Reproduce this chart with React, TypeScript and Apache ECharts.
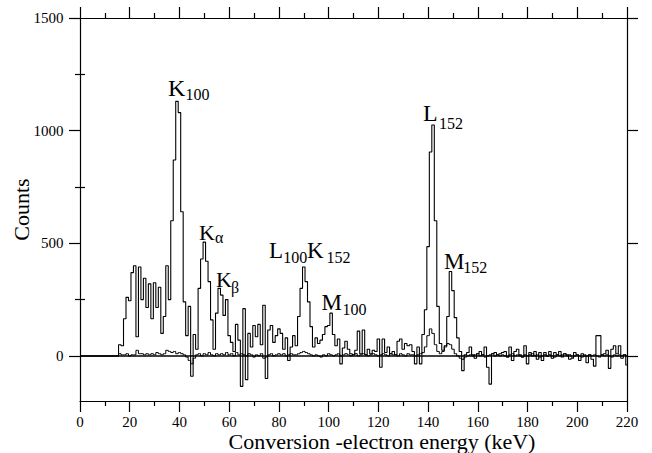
import React, { useEffect, useRef } from "react";
import * as echarts from "echarts";

const FONT = '"Liberation Serif", "Times New Roman", Times, serif';

// Spectrum binned at 1 keV; index = energy (keV) of bin centre
const energyStart = 0;
const binWidth = 1;

const mainCounts = [
  0, 0, 0, 0, 0, 0, 0, 0, 0, 0,
  0, 0, 0, 0, 0, 0, 50, 45, 165, 260,
  245, 370, 400, 85, 395, 250, 345, 215, 320, 165,
  325, 215, 305, 100, 175, 400, 250, 600, 870, 1130,
  1080, 640, 240, 90, 220, -90, 95, 30, 300, 430,
  505, 420, 330, 160, 30, 190, 300, 270, 180, 250,
  90, 60, 20, 140, 70, -135, 210, -105, 100, 40,
  135, 85, 140, 50, 225, -100, 115, 135, 60, 90,
  120, 100, 30, 80, -20, 40, 90, 45, 175, 300,
  395, 330, 240, 130, 40, 80, 55, 70, 95, 130,
  135, 190, 95, 45, 75, -35, 35, 65, 30, 10,
  5, 25, 110, 10, 115, 5, 30, 10, 25, 20,
  75, -50, 75, 15, 40, 10, 20, 5, 65, 75,
  30, 55, 45, 50, 20, -35, 40, -35, 95, 205,
  485, 905, 1025, 600, 220, 55, 25, 45, 175, 375,
  290, 170, 80, 20, -65, 5, 15, 40, 5, -10,
  10, 20, 5, 40, -50, -125, 10, 15, 5, 10,
  15, 20, -5, 40, -20, 20, 30, 5, -5, 45,
  -35, 15, 0, 20, -15, 15, -20, 15, 0, 20,
  -10, 15, 5, 20, -5, 10, 5, -15, -10, 15,
  5, -20, 10, 0, -30, 5, -15, -45, 90, 90,
  5, 10, 25, -55, 30, 45, 10, 45, -10, 5,
  -40,
];

const backgroundCounts = [
  0, 0, 0, 0, 0, 0, 0, 0, 0, 0,
  0, 0, 0, 0, 0, 0, 10, 5, 5, 10,
  0, 5, 5, 25, 10, 10, 5, 10, 5, 10,
  5, 15, 10, 5, 10, 25, 20, 15, 20, 10,
  15, 10, 5, -5, -20, -35, -10, 5, 10, 0,
  10, 5, 15, 5, 0, 10, 5, 10, 5, 15,
  5, 10, 0, 15, 5, 10, 5, 0, 10, 5,
  -5, 5, 0, 10, -10, -5, 5, 10, 0, 5,
  10, 5, 10, 0, 5, 10, 5, 5, 10, 15,
  20, 15, 10, 5, 0, 5, 0, -5, 5, 0,
  10, 5, 0, 5, 10, 0, 5, 10, 5, 0,
  5, 10, 0, 5, 10, 5, 0, 5, 10, 5,
  0, 5, 10, 5, 0, 10, 5, 5, 0, 10,
  5, 0, 10, 5, 5, 0, 5, 10, 15, 40,
  90, 120, 100, 50, 20, 10, 20, 40, 55, 50,
  30, 10, 0, -10, -15, -5, 0, 5, 0, 5,
  10, 0, 5, -5, 0, 5, 10, 0, 5, 0,
  5, 0, -5, 5, 10, 0, 5, 0, -5, 5,
  0, 5, 10, 0, 5, -5, 0, 5, 0, 5,
  0, -5, 5, 0, 5, 10, 0, 5, -5, 0,
  5, 0, -5, 5, 0, 5, 0, 5, 0, -5,
  5, 0, 5, 0, -5, 5, 0, 5, 0, 5,
  0,
];

const xMin = 0;
const xMax = 220;
const xTickInterval = 20;
const yMin = -200;
const yMax = 1500;
const yMajorTicks = [0, 500, 1000, 1500];
const yMinorTicks = [250, 750, 1250];

const xTitle = "Conversion -electron energy (keV)";
const yTitle = "Counts";

const peakNames = ["K", "K", "K", "L", "K", "M", "L", "M"];
const peakSubs = ["100", "α", "β", "100", "152", "100", "152", "152"];

// layout of the peak annotations (pixels): main letter and subscript
const peakLayout = [
  { x: 168, y: 87.5, size: 24, sx: 185.5, sy: 94, ss: 16 },
  { x: 199, y: 232.5, size: 22, sx: 215, sy: 237.5, ss: 16 },
  { x: 216, y: 279, size: 22, sx: 231, sy: 287.5, ss: 16 },
  { x: 269, y: 250.5, size: 23, sx: 283.3, sy: 257.5, ss: 16 },
  { x: 307, y: 250.5, size: 23, sx: 326.5, sy: 257.5, ss: 16 },
  { x: 321.5, y: 302.5, size: 23, sx: 342.5, sy: 309, ss: 16 },
  { x: 423, y: 112.5, size: 24, sx: 439, sy: 123.5, ss: 16 },
  { x: 444, y: 261, size: 23, sx: 463.3, sy: 267.5, ss: 16 },
];

const toPairs = (arr: number[]) =>
  arr.map((v, i) => [energyStart + i * binWidth, v]);

export default function App() {
  const ref = useRef<HTMLDivElement>(null);

  useEffect(() => {
    document.body.style.margin = "0";
    if (!ref.current) return;
    const chart = echarts.init(ref.current, undefined, { renderer: "svg" });

    const black = "#000";
    const tickLine = { color: black, width: 1.2 };
    const baseX = {
      type: "value",
      min: xMin,
      max: xMax,
      interval: xTickInterval,
      axisLine: { show: true, onZero: false, lineStyle: tickLine },
      axisTick: { show: true, inside: false, length: 11, lineStyle: tickLine },
      minorTick: { show: true, splitNumber: 2, length: 5, lineStyle: tickLine },
      splitLine: { show: false },
      minorSplitLine: { show: false },
    };
    const baseY = {
      type: "value",
      min: yMin,
      max: yMax,
      splitNumber: 3,
      splitLine: { show: false },
      minorSplitLine: { show: false },
    };

    const graphics: any[] = [];
    peakNames.forEach((name, i) => {
      const l = peakLayout[i];
      graphics.push({
        type: "text",
        x: l.x,
        y: l.y,
        silent: true,
        style: {
          text: name,
          fontSize: l.size,
          fontFamily: FONT,
          fill: black,
          align: "left",
          verticalAlign: "middle",
        },
      });
      graphics.push({
        type: "text",
        x: l.sx,
        y: l.sy,
        silent: true,
        style: {
          text: peakSubs[i],
          fontSize: l.ss,
          fontFamily: FONT,
          fill: black,
          align: "left",
          verticalAlign: "middle",
        },
      });
    });

    const option: any = {
      animation: false,
      backgroundColor: "#fff",
      grid: {
        left: 80,
        right: 25,
        top: 18,
        bottom: 52,
        containLabel: false,
        outerBoundsMode: "none",
      },
      xAxis: [
        {
          ...baseX,
          position: "bottom",
          axisLabel: {
            show: true,
            margin: 14,
            fontSize: 15,
            lineHeight: 14,
            fontFamily: FONT,
            color: black,
            formatter: (v: number) => String(v),
          },
          name: xTitle,
          nameLocation: "middle",
          nameGap: 30,
          nameMoveOverlap: false,
          nameTextStyle: {
            fontSize: 22,
            lineHeight: 21,
            fontFamily: FONT,
            color: black,
            padding: [0, 0, 0, 57],
          },
        },
        {
          ...baseX,
          position: "top",
          axisLabel: { show: false },
        },
      ],
      yAxis: [
        {
          ...baseY,
          position: "left",
          axisLine: { show: true, onZero: false, lineStyle: tickLine },
          axisTick: {
            show: true,
            inside: false,
            length: 11,
            lineStyle: tickLine,
            customValues: yMajorTicks,
          },
          axisLabel: {
            show: true,
            margin: 16.5,
            fontSize: 15,
            fontFamily: FONT,
            color: black,
            customValues: yMajorTicks,
            formatter: (v: number) => String(v),
          },
          name: yTitle,
          nameLocation: "middle",
          nameGap: 48,
          nameMoveOverlap: false,
          nameTextStyle: { fontSize: 22, fontFamily: FONT, color: black },
        },
        {
          ...baseY,
          position: "left",
          axisLine: { show: false },
          axisTick: {
            show: true,
            inside: false,
            length: 5,
            lineStyle: tickLine,
            customValues: yMinorTicks,
          },
          axisLabel: { show: false },
        },
        {
          ...baseY,
          position: "right",
          axisLine: { show: true, onZero: false, lineStyle: tickLine },
          axisTick: {
            show: true,
            inside: false,
            length: 11,
            lineStyle: tickLine,
            customValues: yMajorTicks,
          },
          axisLabel: { show: false },
        },
        {
          ...baseY,
          position: "right",
          axisLine: { show: false },
          axisTick: {
            show: true,
            inside: false,
            length: 5,
            lineStyle: tickLine,
            customValues: yMinorTicks,
          },
          axisLabel: { show: false },
        },
      ],
      series: [
        {
          name: "spectrum",
          type: "line",
          xAxisIndex: 0,
          yAxisIndex: 0,
          step: "middle",
          showSymbol: false,
          symbol: "none",
          data: toPairs(mainCounts),
          lineStyle: { color: black, width: 1.1 },
          z: 3,
          markLine: {
            silent: true,
            symbol: "none",
            label: { show: false },
            lineStyle: { color: black, width: 1.5, type: "solid" },
            data: [{ yAxis: 0 }],
          },
        },
        {
          name: "background",
          type: "line",
          xAxisIndex: 0,
          yAxisIndex: 0,
          step: "middle",
          showSymbol: false,
          symbol: "none",
          data: toPairs(backgroundCounts),
          lineStyle: { color: black, width: 1 },
          z: 2,
        },
      ],
      graphic: graphics,
    };

    chart.setOption(option);
    return () => chart.dispose();
  }, []);

  return <div ref={ref} style={{ width: 652, height: 453 }} />;
}
